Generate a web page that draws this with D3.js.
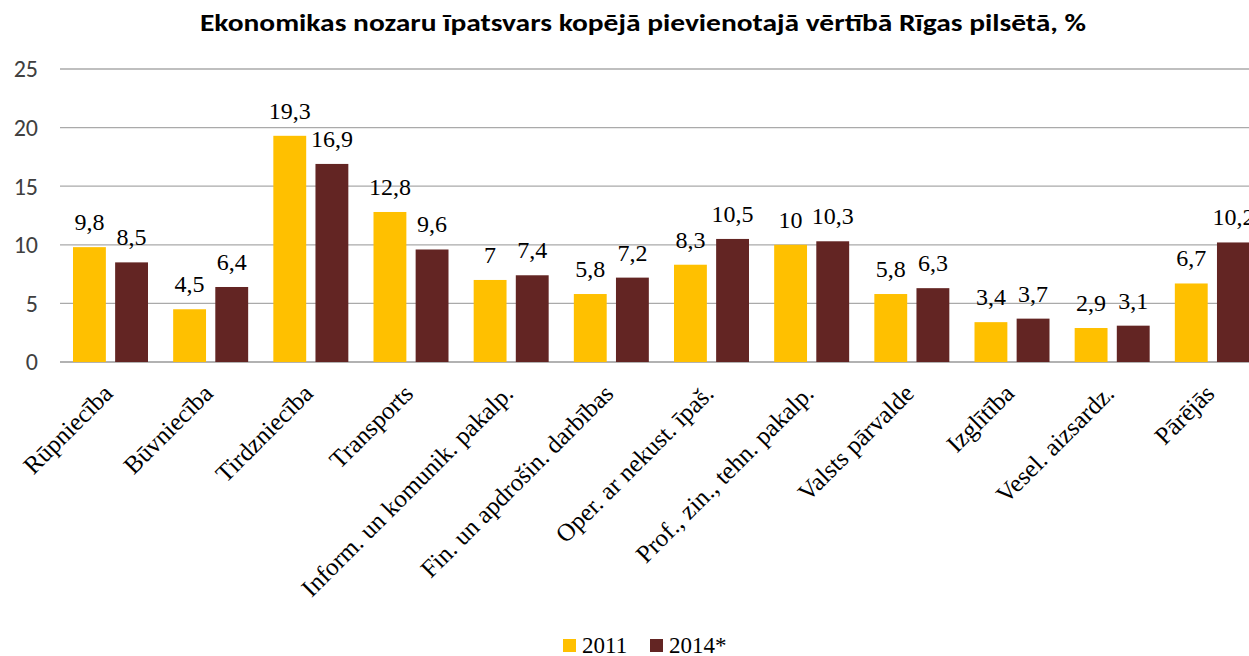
<!DOCTYPE html>
<html>
<head>
<meta charset="utf-8">
<script src="https://cdn.jsdelivr.net/npm/d3@7"></script>
<style>
  body { margin: 0; background: #fff; }
  svg { display: block; }
</style>
</head>
<body>
<div id="chart"></div>
<script>
// data
const categories = ["Rūpniecība", "Būvniecība", "Tirdzniecība", "Transports",
  "Inform. un komunik. pakalp.", "Fin. un apdrošin. darbības", "Oper. ar nekust. īpaš.",
  "Prof., zin., tehn. pakalp.", "Valsts pārvalde", "Izglītība", "Vesel. aizsardz.", "Pārējās"];
const values2011 = [9.8, 4.5, 19.3, 12.8, 7, 5.8, 8.3, 10, 5.8, 3.4, 2.9, 6.7];
const values2014 = [8.5, 6.4, 16.9, 9.6, 7.4, 7.2, 10.5, 10.3, 6.3, 3.7, 3.1, 10.2];
const seriesNames = ["2011", "2014*"];
const yTicks = [0, 5, 10, 15, 20, 25];

const width = 1249, height = 656;
const margin = {top: 69, right: -13, bottom: 294, left: 60};
const colors = ["#FFC000", "#632523"];
const serif = "'Liberation Serif', 'Times New Roman', serif";
const sans = "Carlito, Calibri, 'Open Sans', sans-serif";

const svg = d3.select("#chart").append("svg")
  .attr("width", width)
  .attr("height", height);

svg.append("text")
  .attr("x", 643)
  .attr("y", 31)
  .attr("text-anchor", "middle")
  .attr("font-family", sans)
  .attr("font-weight", "bold")
  .attr("font-size", 24)
  .attr("textLength", 886)
  .attr("lengthAdjust", "spacingAndGlyphs")
  .text("Ekonomikas nozaru īpatsvars kopējā pievienotajā vērtībā Rīgas pilsētā, %");

const x = d3.scaleBand()
  .domain(categories)
  .range([margin.left, width - margin.right])
  .paddingInner(0)
  .paddingOuter(0);

const x1 = d3.scaleBand()
  .domain(seriesNames)
  .range([13, 88])
  .paddingInner(0.22);

const y = d3.scaleLinear()
  .domain([0, 25])
  .range([height - margin.bottom, margin.top]);

// gridlines
svg.append("g")
  .selectAll("line")
  .data(yTicks)
  .join("line")
  .attr("x1", margin.left)
  .attr("x2", width)
  .attr("y1", d => y(d))
  .attr("y2", d => y(d))
  .attr("stroke", d => d === 0 ? "#999" : "#aaa")
  .attr("stroke-width", 1.3);

// y labels
svg.append("g")
  .selectAll("text")
  .data(yTicks)
  .join("text")
  .attr("x", 38)
  .attr("y", d => y(d))
  .attr("dy", "0.35em")
  .attr("text-anchor", "end")
  .attr("font-family", sans)
  .attr("font-size", 24)
  .attr("fill", "#404040")
  .text(d => d);

const rows = categories.map((c, i) => ({cat: c, vals: [values2011[i], values2014[i]]}));

const groups = svg.append("g")
  .selectAll("g")
  .data(rows)
  .join("g")
  .attr("transform", d => `translate(${x(d.cat)},0)`);

groups.selectAll("rect")
  .data(d => d.vals.map((v, j) => ({key: seriesNames[j], v, j})))
  .join("rect")
  .attr("x", d => x1(d.key))
  .attr("width", x1.bandwidth())
  .attr("y", d => y(d.v))
  .attr("height", d => y(0) - y(d.v))
  .attr("fill", d => colors[d.j]);

groups.selectAll("text.val")
  .data(d => d.vals.map((v, j) => ({key: seriesNames[j], v, j})))
  .join("text")
  .attr("class", "val")
  .attr("x", d => x1(d.key) + x1.bandwidth() / 2)
  .attr("y", d => y(d.v) - 17)
  .attr("text-anchor", "middle")
  .attr("font-family", serif)
  .attr("font-size", 24)
  .attr("fill", "#000")
  .text(d => String(d.v).replace(".", ","));

// category labels rotated
svg.append("g")
  .selectAll("text")
  .data(categories)
  .join("text")
  .attr("transform", d => `translate(${x(d) + x.bandwidth() / 2 + 4},${y(0) + 33}) rotate(-45)`)
  .attr("text-anchor", "end")
  .attr("font-family", serif)
  .attr("font-size", 25)
  .attr("fill", "#000")
  .text(d => d);

// legend
const legend = svg.append("g")
  .attr("transform", "translate(563,645)");
const legItems = [{name: seriesNames[0], dx: 0}, {name: seriesNames[1], dx: 87}];
legItems.forEach((it, j) => {
  legend.append("rect")
    .attr("x", it.dx)
    .attr("y", -6)
    .attr("width", 13)
    .attr("height", 13)
    .attr("fill", colors[j]);
  legend.append("text")
    .attr("x", it.dx + 19)
    .attr("y", 0)
    .attr("dy", "0.35em")
    .attr("font-family", serif)
    .attr("font-size", 23)
    .attr("fill", "#000")
    .text(it.name);
});
</script>
</body>
</html>
